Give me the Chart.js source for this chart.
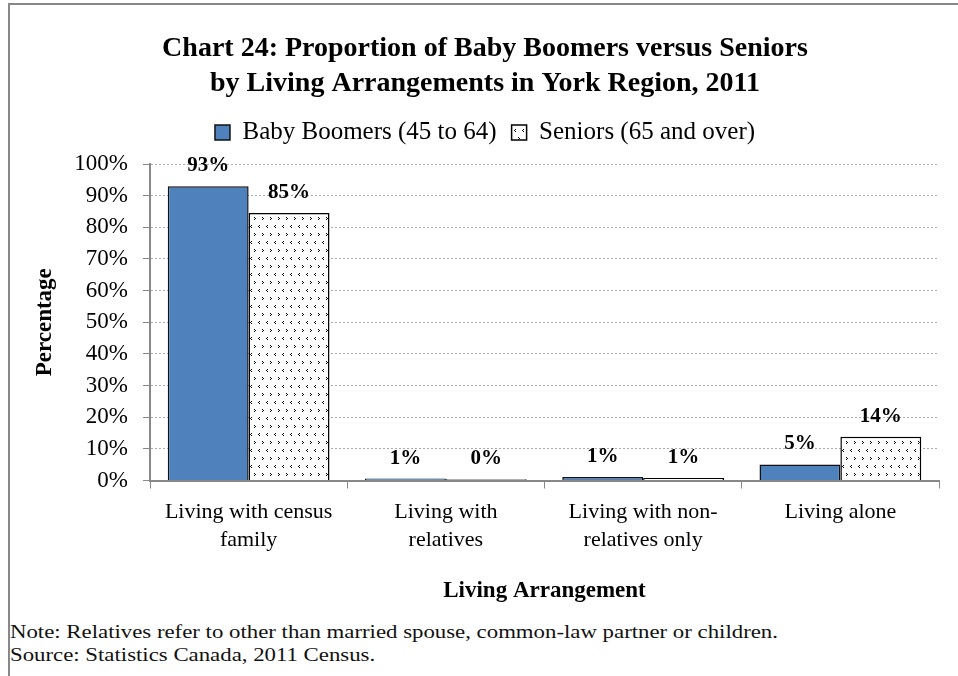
<!DOCTYPE html>
<html>
<head>
<meta charset="utf-8">
<script src="https://cdn.jsdelivr.net/npm/chart.js@4.4.1/dist/chart.umd.min.js"></script>
<style>
  html, body { margin: 0; padding: 0; background: #fff; }
  body { width: 958px; height: 676px; position: relative; overflow: hidden; font-family: "Liberation Serif", serif; }
  #frame { position: absolute; left: 8px; top: 3px; width: 960px; height: 680px; border-left: 2px solid #888; border-top: 2px solid #888; }
  #wrap { position: absolute; left: 0; top: 0; width: 958px; height: 610px; }
  .note { position: absolute; left: 10px; font-size: 19px; color: #111; white-space: nowrap; transform: scaleX(1.2); transform-origin: left center; }
</style>
</head>
<body>
<div id="frame"></div>
<div id="wrap"><canvas id="myChart"></canvas></div>
<div class="note" style="top:621px">Note: Relatives refer to other than married spouse, common-law partner or children.</div>
<div class="note" style="top:644px">Source: Statistics Canada, 2011 Census.</div>
<script>
var categories = [
  ['Living with census', 'family'],
  ['Living with', 'relatives'],
  ['Living with non-', 'relatives only'],
  'Living alone'
];
var boomers = [93.0, 0.6, 1.1, 5.1];
var seniors = [84.5, 0.4, 0.8, 13.8];
var boomerLabels = ['93%', '1%', '1%', '5%'];
var seniorLabels = ['85%', '0%', '1%', '14%'];
var yTicks = [0, 10, 20, 30, 40, 50, 60, 70, 80, 90, 100];

// dotted fill for the seniors bars
var tile = document.createElement('canvas');
tile.width = 8;
tile.height = 16;
var tc = tile.getContext('2d');
tc.fillStyle = '#fff';
tc.fillRect(0, 0, 8, 16);
tc.fillStyle = '#000';
tc.fillRect(3, 1, 1, 1); tc.fillRect(2, 2, 1, 1); tc.fillRect(3, 3, 1, 1);
tc.fillRect(6, 9, 1, 1); tc.fillRect(7, 10, 1, 1); tc.fillRect(6, 11, 1, 1);
var ctx = document.getElementById('myChart').getContext('2d');
var dots = ctx.createPattern(tile, 'repeat');

var serif = '"Liberation Serif", "Times New Roman", serif';

var barLabels = {
  id: 'barLabels',
  afterDatasetsDraw: function(chart) {
    var c = chart.ctx;
    var texts = [boomerLabels, seniorLabels];
    c.save();
    c.font = 'bold 21px ' + serif;
    c.fillStyle = '#000';
    c.textAlign = 'center';
    c.textBaseline = 'bottom';
    chart.data.datasets.forEach(function(ds, i) {
      chart.getDatasetMeta(i).data.forEach(function(bar, j) {
        c.fillText(texts[i][j], bar.x, bar.y - 10);
      });
    });
    c.restore();
  }
};

// empty box between legend and plot
var spacer = {
  id: 'spacer',
  beforeInit: function(chart) {
    var box = {
      position: 'top', weight: 0, fullSize: true, options: {},
      left: 0, top: 0, right: 0, bottom: 0, width: 0, height: 0,
      isHorizontal: function() { return true; },
      update: function(maxWidth) { this.width = maxWidth; this.height = 9; },
      draw: function() {}
    };
    Chart.layouts.addBox(chart, box);
  }
};

var chart = new Chart(ctx, {
  type: 'bar',
  data: {
    labels: categories,
    datasets: [{
      label: 'Baby Boomers (45 to 64)',
      backgroundColor: '#4F81BD',
      borderColor: '#111',
      borderWidth: 1.5,
      data: boomers
    }, {
      label: 'Seniors (65 and over)',
      backgroundColor: dots,
      borderColor: '#000',
      borderWidth: 1.5,
      data: seniors
    }]
  },
  options: {
    responsive: true,
    maintainAspectRatio: false,
    animation: false,
    categoryPercentage: 0.82,
    barPercentage: 1.0,
    layout: { padding: { top: 20, left: 31, right: 19, bottom: 0 } },
    plugins: {
      title: {
        display: true,
        text: ['Chart 24: Proportion of Baby Boomers versus Seniors', 'by Living Arrangements in York Region, 2011'],
        color: '#000',
        font: { family: serif, size: 28, weight: 'bold', lineHeight: 1.25 },
        padding: { top: 11, bottom: 4 }
      },
      legend: {
        position: 'top',
        labels: {
          color: '#000',
          font: { family: serif, size: 25 },
          boxWidth: 15,
          boxHeight: 15,
          padding: 15
        }
      },
      tooltip: { enabled: false }
    },
    scales: {
      x: {
        grid: { display: true, drawOnChartArea: false, color: '#888', tickLength: 8, offset: true },
        border: { color: '#888', width: 2 },
        ticks: { color: '#000', font: { family: serif, size: 22, lineHeight: 1.27 }, padding: 10, maxRotation: 0 },
        title: {
          display: true,
          text: 'Living Arrangement',
          color: '#000',
          font: { family: serif, size: 23, weight: 'bold' },
          padding: { top: 13, bottom: 5 }
        }
      },
      y: {
        min: 0,
        max: 100,
        afterFit: function(scale) { scale.width = 150 - 31; },
        afterBuildTicks: function(scale) {
          scale.ticks = yTicks.map(function(v) { return { value: v }; });
        },
        grid: { color: '#aaa', tickLength: 7, tickColor: '#888', tickBorderDash: [] },
        border: { color: '#888', width: 2, dash: [2, 2] },
        ticks: {
          color: '#000',
          font: { family: serif, size: 23 },
          padding: 15,
          callback: function(v) { return v + '%'; }
        },
        title: {
          display: true,
          text: 'Percentage',
          color: '#000',
          font: { family: serif, size: 23, weight: 'bold' },
          padding: { top: 0, bottom: 6 }
        }
      }
    }
  },
  plugins: [barLabels, spacer]
});
</script>
</body>
</html>
